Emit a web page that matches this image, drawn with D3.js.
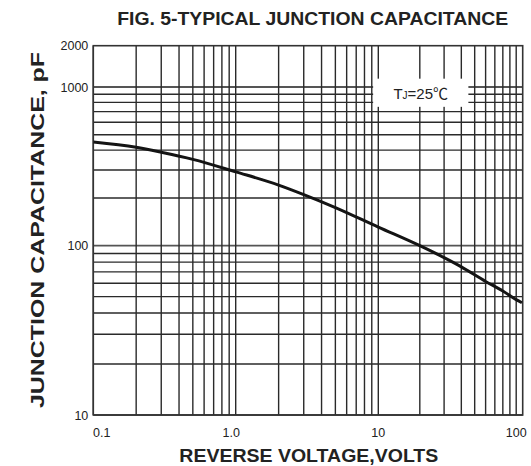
<!DOCTYPE html>
<html>
<head>
<meta charset="utf-8">
<script src="https://cdn.jsdelivr.net/npm/d3@7/dist/d3.min.js"></script>
<style>
  html, body { margin: 0; padding: 0; background: #fff; }
  svg { display: block; }
</style>
</head>
<body>
<svg id="chart" width="531" height="466"></svg>
<script>
// Typical junction capacitance vs reverse voltage
const voltage     = [0.1, 0.2, 0.3, 0.5, 1, 2, 3, 5, 10, 20, 30, 40, 60, 80, 100, 110];
const capacitance = [450, 417, 388, 350, 292, 241, 210, 174, 131, 100, 85, 75, 61.5, 54, 48, 46];

const xTickValues = [0.1, 1, 10, 100];
const xTickLabels = ["0.1", "1.0", "10", "100"];
const yTickValues = [10, 100, 1000, 2000];
const yTickLabels = ["10", "100", "1000", "2000"];

const titleText = "FIG. 5-TYPICAL JUNCTION CAPACITANCE";
const xTitle = "REVERSE VOLTAGE,VOLTS";
const yTitle = "JUNCTION CAPACITANCE, pF";

// plot frame
const L = 93.3, R = 522.7, T = 45.7, B = 415;

const svg = d3.select("#chart");

// log scales, one linear piece per decade of the printed grid
const x = d3.scaleLog()
  .domain([0.1, 1, 10, 100])
  .range([L, 235.7, 378.3, 516.2]);
const y = d3.scaleLog()
  .domain([10, 100, 1000, 2000])
  .range([B, 245.7, 87, T]);

// grid lines
const xGrid = [];
[0.1, 1, 10].forEach(d => { for (let k = 1; k <= 9; k++) xGrid.push(+(k * d).toPrecision(3)); });
xGrid.push(100);
const yGrid = [];
[10, 100].forEach(d => { for (let k = 1; k <= 9; k++) yGrid.push(k * d); });
yGrid.push(1000);

const grid = svg.append("g");
grid.selectAll("line.h").data(yGrid).join("line")
  .attr("class", "h")
  .attr("x1", L).attr("x2", R)
  .attr("y1", d => y(d)).attr("y2", d => y(d))
  .attr("stroke", d => (d === 100 || d === 1000) ? "#555" : "#2a2a2a")
  .attr("stroke-width", d => (d === 100 || d === 1000) ? 1.8 : 1.4);
grid.selectAll("line.v").data(xGrid).join("line")
  .attr("class", "v")
  .attr("x1", d => x(d)).attr("x2", d => x(d))
  .attr("y1", T).attr("y2", B)
  .attr("stroke", "#2a2a2a")
  .attr("stroke-width", 1.4);

// frame
svg.append("rect")
  .attr("x", L).attr("y", T)
  .attr("width", R - L).attr("height", B - T)
  .attr("fill", "none").attr("stroke", "#333").attr("stroke-width", 1.6);

// temperature note on a white panel
const noteX0 = x(9.2), noteX1 = x(45), noteY0 = y(1150), noteY1 = y(750);
svg.append("rect")
  .attr("x", noteX0).attr("y", noteY0)
  .attr("width", noteX1 - noteX0).attr("height", noteY1 - noteY0)
  .attr("fill", "#fff");
const note = svg.append("text")
  .attr("x", (noteX0 + noteX1) / 2).attr("y", 99)
  .attr("text-anchor", "middle")
  .attr("font-family", "Liberation Sans, Arial, sans-serif")
  .attr("font-size", 15).attr("fill", "#222");
note.append("tspan").text("T");
note.append("tspan").attr("font-size", 10).text("J");
note.append("tspan").text("=25");
note.append("tspan").attr("font-family", "Noto Sans CJK SC").attr("font-size", 15).text("℃");

// curve
const line = d3.line()
  .x((d, i) => x(voltage[i]))
  .y((d, i) => y(capacitance[i]))
  .curve(d3.curveMonotoneX);
svg.append("clipPath").attr("id", "frameClip")
  .append("rect").attr("x", L).attr("y", T).attr("width", R - L).attr("height", B - T);
svg.append("path")
  .datum(voltage)
  .attr("clip-path", "url(#frameClip)")
  .attr("d", line)
  .attr("fill", "none")
  .attr("stroke", "#141414")
  .attr("stroke-width", 3);

// tick labels
svg.append("g").selectAll("text").data(yTickValues).join("text")
  .attr("x", L - 5)
  .attr("y", d => y(d) + 4.5)
  .attr("text-anchor", "end")
  .attr("font-family", "Liberation Sans, Arial, sans-serif")
  .attr("font-size", 12.5).attr("fill", "#222")
  .text((d, i) => yTickLabels[i]);
svg.append("g").selectAll("text").data(xTickValues).join("text")
  .attr("x", d => x(d))
  .attr("dx", (d, i) => i === 0 ? 8.5 : (i === 1 ? -4.5 : 0))
  .attr("y", B + 21.5)
  .attr("text-anchor", "middle")
  .attr("font-family", "Liberation Sans, Arial, sans-serif")
  .attr("font-size", 12.5).attr("fill", "#222")
  .text((d, i) => xTickLabels[i]);

// titles
svg.append("text")
  .attr("x", 312.7).attr("y", 25)
  .attr("text-anchor", "middle")
  .attr("font-family", "Liberation Sans, Arial, sans-serif")
  .attr("font-weight", "bold").attr("font-size", 18.5).attr("fill", "#222")
  .attr("textLength", 391).attr("lengthAdjust", "spacingAndGlyphs")
  .text(titleText);
svg.append("text")
  .attr("x", 308.8).attr("y", 461.7)
  .attr("text-anchor", "middle")
  .attr("font-family", "Liberation Sans, Arial, sans-serif")
  .attr("font-weight", "bold").attr("font-size", 17.5).attr("fill", "#222")
  .attr("textLength", 259).attr("lengthAdjust", "spacingAndGlyphs")
  .text(xTitle);
svg.append("text")
  .attr("transform", "translate(44,230) rotate(-90)")
  .attr("text-anchor", "middle")
  .attr("font-family", "Liberation Sans, Arial, sans-serif")
  .attr("font-weight", "bold").attr("font-size", 18).attr("fill", "#222")
  .attr("textLength", 356).attr("lengthAdjust", "spacingAndGlyphs")
  .text(yTitle);
</script>
</body>
</html>
